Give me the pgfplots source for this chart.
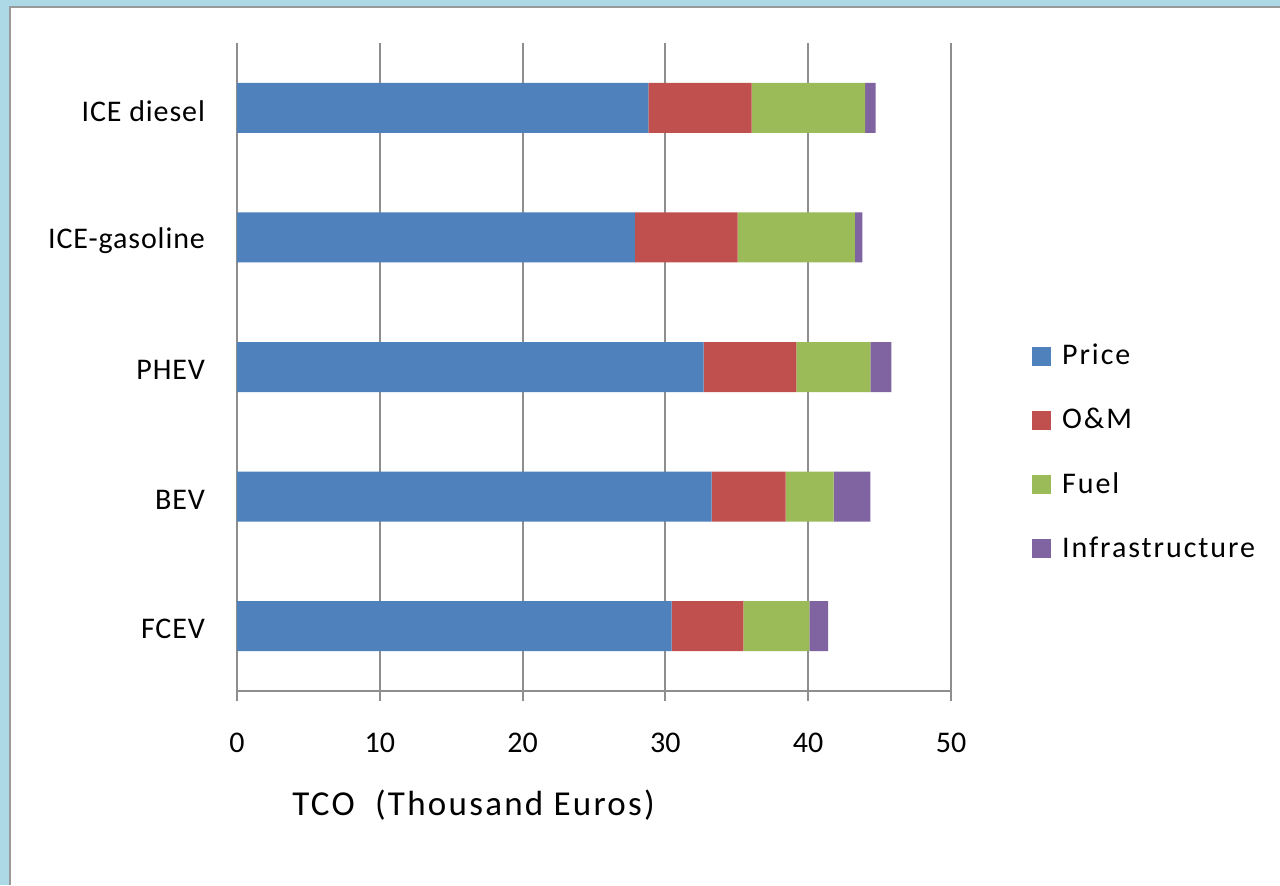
\documentclass[border=0pt]{standalone}
\usepackage{fontspec}
\setmainfont{Carlito}
\newfontfamily\catfont[LetterSpace=3]{Carlito}
\newfontfamily\widefont[LetterSpace=6.5]{Carlito}
\usepackage{pgfplots}
\pgfplotsset{compat=1.18}

\definecolor{cPrice}{HTML}{4F81BD}
\definecolor{cOM}{HTML}{C0504D}
\definecolor{cFuel}{HTML}{9BBB59}
\definecolor{cInfra}{HTML}{8064A2}
\definecolor{frameblue}{HTML}{ADD8E6}
\definecolor{gridgray}{HTML}{8E8E8E}

% Total cost of ownership by cost component (thousand euros)
% idx: 0 = FCEV, 1 = BEV, 2 = PHEV, 3 = ICE-gasoline, 4 = ICE diesel
\begin{document}
\begin{tikzpicture}
\useasboundingbox (0,0) rectangle (640pt,442.5pt);
\fill[frameblue] (0,0) rectangle (640pt,442.5pt);
\fill[white] (5pt,0) rectangle (640pt,439pt);
\draw[gray!80, line width=1.2pt] (5pt,0) -- (5pt,439pt) -- (640pt,439pt);

\begin{axis}[
  at={(118.5pt,97pt)}, anchor=south west,
  scale only axis, width=357pt, height=324pt,
  xbar stacked, bar width=25pt,
  xmin=0, xmax=50, ymin=-0.5, ymax=4.5,
  axis x line=bottom, axis y line=left,
  axis line style={-, gridgray, line width=1pt},
  xtick={0,10,...,50},
  ytick={0,1,2,3,4},
  yticklabels={FCEV,BEV,PHEV,ICE-gasoline,ICE diesel},
  minor ytick={-0.5,0.5,1.5,2.5,3.5,4.5},
  major tick length=5pt,
  tick align=outside,
  tick style={gridgray, line width=1pt},
  ytick style={draw=none},
  minor tick style={gridgray, line width=1pt, draw=gridgray},
  minor tick length=6.5pt,
  xmajorgrids, major grid style={gridgray, line width=1pt},
  /pgf/number format/assume math mode=true,
  xticklabel style={yshift=-12.5pt, font=\fontsize{15}{18}\selectfont},
  yticklabel style={xshift=-7.5pt, yshift=-1.5pt, font=\catfont\fontsize{15}{18}\selectfont},
  xlabel={TCO\ \ (Thousand Euros)},
  xlabel style={at={(axis description cs:0.077,-0.176)}, anchor=west,
    inner sep=0pt, font=\widefont\fontsize{17.5}{20}\selectfont},
  legend style={draw=none, fill=none, at={(axis description cs:1.113,0.542)},
    anchor=north west, inner sep=0pt, row sep=16.3pt,
    font=\widefont\fontsize{15}{18}\selectfont,
    nodes={inner sep=2pt}},
  legend cell align=left,
  legend image code/.code={\path[#1,draw=none] (0pt,-4.75pt) rectangle (9.5pt,4.75pt);},
  /tikz/every odd column/.append style={column sep=3.5pt},
]
\addplot[fill=cPrice, draw=none] coordinates {(30.44,0) (33.24,1) (32.68,2) (27.87,3) (28.80,4)};
\addplot[fill=cOM, draw=none] coordinates {(5.02,0) (5.18,1) (6.49,2) (7.19,3) (7.24,4)};
\addplot[fill=cFuel, draw=none] coordinates {(4.62,0) (3.36,1) (5.18,2) (8.20,3) (7.94,4)};
\addplot[fill=cInfra, draw=none] coordinates {(1.31,0) (2.57,1) (1.47,2) (0.53,3) (0.75,4)};
\legend{Price,O\&M,Fuel,Infrastructure}
\end{axis}
\end{tikzpicture}
\end{document}
